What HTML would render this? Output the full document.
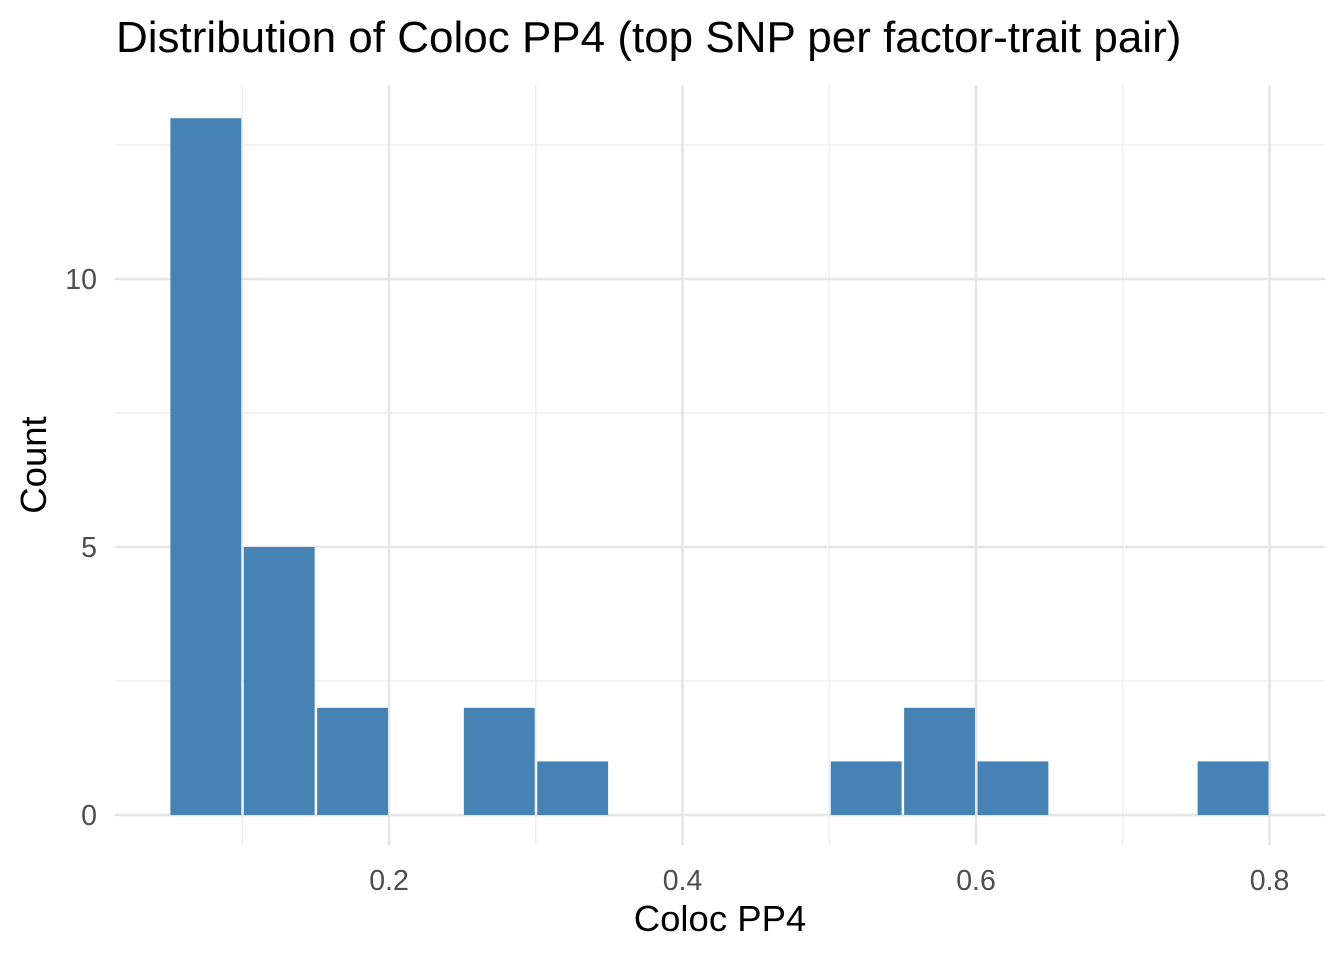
<!DOCTYPE html>
<html><head><meta charset="utf-8"><style>
html,body{margin:0;padding:0;background:#fff;}
svg{display:block;font-family:"Liberation Sans",sans-serif;}
</style></head><body>
<svg id="chart" width="1344" height="960">
<text x="116" y="52" font-size="44" fill="#000">Distribution of Coloc PP4 (top SNP per factor-trait pair)</text>
<g id="grid"></g>
<g id="bars"></g>
<g id="ticks"></g>
<text x="720" y="931" font-size="36.5" text-anchor="middle" fill="#000">Coloc PP4</text>
<text transform="translate(46,465) rotate(-90)" font-size="36.5" text-anchor="middle" fill="#000">Count</text>
</svg>
<script>
const binStarts = [0.05,0.10,0.15,0.20,0.25,0.30,0.35,0.40,0.45,0.50,0.55,0.60,0.65,0.70,0.75];
const counts    = [13,5,2,0,2,1,0,0,0,1,2,1,0,0,1];
const binWidth = 0.05;
const xTicks = [0.2,0.4,0.6,0.8];
const xTickLabels = ["0.2","0.4","0.6","0.8"];
const xMinor = [0.1,0.3,0.5,0.7];
const yTicks = [0,5,10];
const yTickLabels = ["0","5","10"];
const yMinor = [2.5,7.5,12.5];

const NS="http://www.w3.org/2000/svg";
const L=115,R=1325,T=85,B=845;
const xs=v=>95.5+v*1467.5;
const ys=v=>815-v*53.6;
function mk(tag,attrs,parent){const e=document.createElementNS(NS,tag);for(const k in attrs)e.setAttribute(k,attrs[k]);parent.appendChild(e);return e;}
const grid=document.getElementById('grid'),bars=document.getElementById('bars'),ticks=document.getElementById('ticks');
xMinor.forEach(v=>{const l=mk('line',{x1:xs(v),x2:xs(v),y1:T,y2:B,stroke:'#eeeeee','stroke-width':1.4},grid);

});
yMinor.forEach(v=>{const l=mk('line',{x1:L,x2:R,y1:ys(v),y2:ys(v),stroke:'#eeeeee','stroke-width':1.4},grid);

});
xTicks.forEach((v,i)=>{const l=mk('line',{x1:xs(v),x2:xs(v),y1:T,y2:B,stroke:'#e6e6e6','stroke-width':2.6},grid);


const t=mk('text',{x:xs(v),y:890,'font-size':28.5,'text-anchor':'middle',fill:'#4d4d4d'},ticks);t.textContent=xTickLabels[i];

});
yTicks.forEach((v,i)=>{const l=mk('line',{x1:L,x2:R,y1:ys(v),y2:ys(v),stroke:'#e6e6e6','stroke-width':2.6},grid);


const t=mk('text',{x:97,y:ys(v)+10,'font-size':28.5,'text-anchor':'end',fill:'#4d4d4d'},ticks);t.textContent=yTickLabels[i];

});
binStarts.forEach((s,i)=>{if(counts[i]<=0)return;
const x0=xs(s),x1=xs(s+binWidth),y=ys(counts[i]);
const r=mk('rect',{x:x0+1.5,y:y,width:x1-x0-2.5,height:ys(0)-y,fill:'#4682b4'},bars);

});
</script>
</body></html>
